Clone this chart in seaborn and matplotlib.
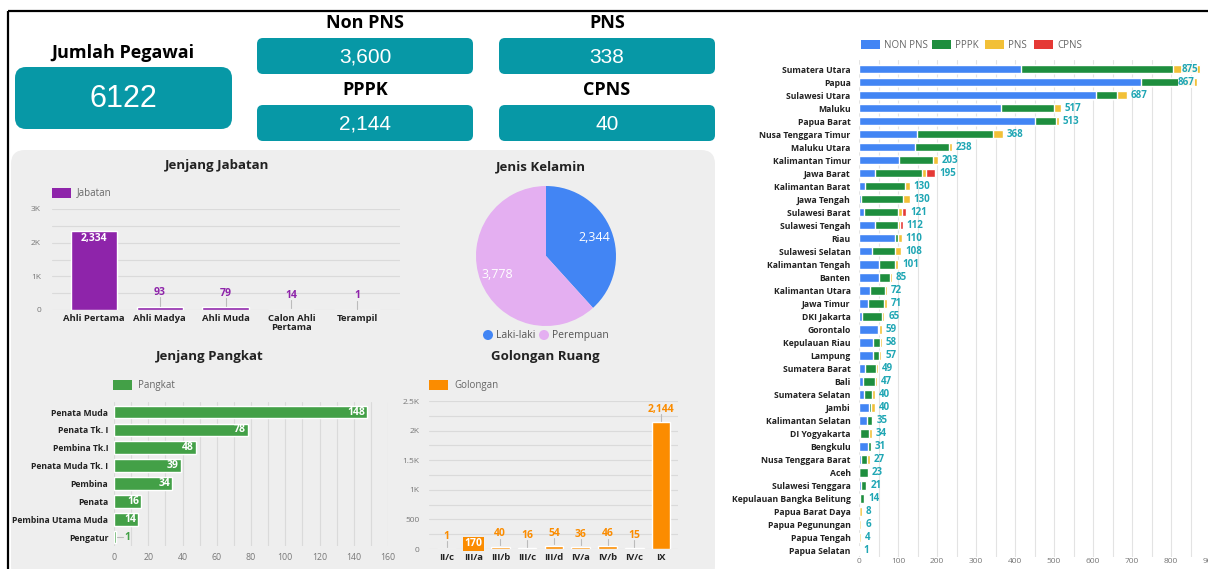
import numpy as np
import pandas as pd
import seaborn as sns
import matplotlib.pyplot as plt
from matplotlib.patches import FancyBboxPatch, Rectangle, Circle
from matplotlib.ticker import MultipleLocator

# ---- data ----
kpi_total = 6122
kpi_labels = ['Non PNS', 'PNS', 'PPPK', 'CPNS']
kpi_values = ['3,600', '338', '2,144', '40']

jabatan_cat = ['Ahli Pertama', 'Ahli Madya', 'Ahli Muda', 'Calon Ahli\nPertama', 'Terampil']
jabatan_val = [2334, 93, 79, 14, 1]

gender_cat = ['Laki-laki', 'Perempuan']
gender_val = [2344, 3778]

pangkat_cat = ['Penata Muda', 'Penata Tk. I', 'Pembina Tk.I', 'Penata Muda Tk. I',
               'Pembina', 'Penata', 'Pembina Utama Muda', 'Pengatur']
pangkat_val = [148, 78, 48, 39, 34, 16, 14, 1]

golongan_cat = ['II/c', 'III/a', 'III/b', 'III/c', 'III/d', 'IV/a', 'IV/b', 'IV/c', 'IX']
golongan_val = [1, 170, 40, 16, 54, 36, 46, 15, 2144]

provinsi = ['Sumatera Utara', 'Papua', 'Sulawesi Utara', 'Maluku', 'Papua Barat',
            'Nusa Tenggara Timur', 'Maluku Utara', 'Kalimantan Timur', 'Jawa Barat',
            'Kalimantan Barat', 'Jawa Tengah', 'Sulawesi Barat', 'Sulawesi Tengah', 'Riau',
            'Sulawesi Selatan', 'Kalimantan Tengah', 'Banten', 'Kalimantan Utara',
            'Jawa Timur', 'DKI Jakarta', 'Gorontalo', 'Kepulauan Riau', 'Lampung',
            'Sumatera Barat', 'Bali', 'Sumatera Selatan', 'Jambi', 'Kalimantan Selatan',
            'DI Yogyakarta', 'Bengkulu', 'Nusa Tenggara Barat', 'Aceh', 'Sulawesi Tenggara',
            'Kepulauan Bangka Belitung', 'Papua Barat Daya', 'Papua Pegunungan',
            'Papua Tengah', 'Papua Selatan']
non_pns = [415, 722, 607, 364, 452, 149, 144, 103, 41, 15, 6, 13, 41, 92, 34, 50, 51, 28,
           23, 8, 48, 36, 36, 15, 10, 13, 26, 21, 2, 22, 4, 0, 6, 3, 0, 0, 0, 0]
pppk = [390, 100, 54, 136, 52, 194, 88, 87, 121, 104, 106, 86, 60, 9, 59, 42, 28, 39,
        41, 51, 4, 19, 14, 29, 32, 20, 5, 12, 24, 8, 17, 22, 13, 10, 0, 0, 0, 0]
pns = [70, 45, 26, 17, 9, 25, 6, 13, 9, 11, 18, 12, 5, 9, 15, 9, 6, 5,
       7, 6, 7, 3, 7, 5, 5, 7, 9, 2, 8, 1, 6, 1, 2, 1, 8, 6, 4, 1]
cpns = [0, 0, 0, 0, 0, 0, 0, 0, 24, 0, 0, 10, 6, 0, 0, 0, 0, 0,
        0, 0, 0, 0, 0, 0, 0, 0, 0, 0, 0, 0, 0, 0, 0, 0, 0, 0, 0, 0]

# ---- style ----
sns.set_style('white')
plt.rcParams['font.family'] = ['Open Sans', 'DejaVu Sans']

TEAL = '#0798A6'
PANEL = '#EEEEEE'
GRID = '#DADADA'
DARK = '#222222'
TICK = '#777777'
PURPLE = '#8E24AA'
GREEN = '#43A047'
ORANGE = '#FB8C00'
STACK_COLORS = {'NON PNS': '#4285F4', 'PPPK': '#1E8E3E', 'PNS': '#F2C037', 'CPNS': '#E53935'}
VALUE_TEAL = '#1FA6B4'

W, H = 1208, 569
fig = plt.figure(figsize=(W / 100, H / 100), dpi=100)
fig.patch.set_facecolor('white')

bg = fig.add_axes([0, 0, 1, 1])
bg.set_xlim(0, W)
bg.set_ylim(H, 0)
bg.axis('off')


def px_axes(l, t, r, b):
    ax = fig.add_axes([l / W, 1 - b / H, (r - l) / W, (b - t) / H])
    ax.patch.set_alpha(0)
    return ax


def card(x, y, w, h, rad=8, color=TEAL):
    bg.add_patch(FancyBboxPatch((x, y), w, h, boxstyle=f'round,pad=0,rounding_size={rad}',
                                fc=color, ec='none'))


def style_axes(ax):
    for s in ax.spines.values():
        s.set_visible(False)
    ax.tick_params(length=0)
    ax.set_xlabel('')
    ax.set_ylabel('')


# frame lines
bg.plot([8, W], [11, 11], color='black', lw=1.6, solid_capstyle='butt')
bg.plot([8, 8], [11, H], color='black', lw=1.6, solid_capstyle='butt')

# ---- KPI cards ----
card(15, 67, 217, 62, rad=11)
bg.text(123, 53, 'Jumlah Pegawai', ha='center', va='center', fontsize=13, fontweight='bold', color='black')
bg.text(123, 99, str(kpi_total), ha='center', va='center', fontsize=22,
        color='white', family='Liberation Sans')

kpi_pos = [(257, 38), (499, 38), (257, 105), (499, 105)]
for (x, y), lab, val in zip(kpi_pos, kpi_labels, kpi_values):
    card(x, y, 216, 36, rad=6)
    bg.text(x + 108, y - 15, lab, ha='center', va='center', fontsize=13, fontweight='bold', color='black')
    bg.text(x + 108, y + 19, val, ha='center', va='center', fontsize=15,
            color='white', family='Liberation Sans')

# grey panel
bg.add_patch(FancyBboxPatch((11, 150), 704, 430, boxstyle='round,pad=0,rounding_size=14',
                            fc=PANEL, ec='none'))


def legend_box(x, y, color, label):
    bg.add_patch(Rectangle((x, y - 5), 19, 10, fc=color, ec='none'))
    bg.text(x + 25, y, label, ha='left', va='center', fontsize=7, color='#666666')


# ---- Jenjang Jabatan ----
bg.text(217, 165, 'Jenjang Jabatan', ha='center', va='center', fontsize=9.5, fontweight='bold', color=DARK)
legend_box(52, 193, PURPLE, 'Jabatan')
ax1 = px_axes(52, 209, 400, 310)
sns.barplot(x=jabatan_cat, y=jabatan_val, color=PURPLE, saturation=1, width=0.7, ax=ax1)
ax1.set_xlim(-0.639, 4.654)
ax1.set_ylim(0, 3000)
ax1.set_yticks([0, 1000, 2000, 3000])
ax1.set_yticklabels(['0', '1K', '2K', '3K'], fontsize=6, color=TICK)
ax1.yaxis.set_minor_locator(MultipleLocator(500))
ax1.grid(axis='y', which='both', color=GRID, lw=0.8)
ax1.set_axisbelow(True)
style_axes(ax1)
ax1.tick_params(axis='y', pad=8)
ax1.tick_params(axis='x', pad=3)
for t in ax1.get_xticklabels():
    t.set_fontsize(6.8)
    t.set_fontweight('bold')
    t.set_color(DARK)
    t.set_linespacing(1.0)
for i, v in enumerate(jabatan_val):
    if v > 1000:
        ax1.text(i, v - 60, f'{v:,}', ha='center', va='top', color='white', fontsize=7.5, fontweight='bold')
    else:
        ax1.plot([i, i], [v + 40, v + 280], color='#BBBBBB', lw=0.8)
        ax1.text(i, v + 420, f'{v:,}', ha='center', va='center', color=PURPLE, fontsize=7.5, fontweight='bold')

# ---- Jenis Kelamin ----
bg.text(541, 167, 'Jenis Kelamin', ha='center', va='center', fontsize=9.5, fontweight='bold', color=DARK)
ax2 = px_axes(476, 186, 616, 326)
gender_total = sum(gender_val)
ax2.pie(gender_val, colors=['#4285F4', '#E4AFF1'], startangle=90, counterclock=False,
        autopct=lambda p: f'{p * gender_total / 100:,.0f}', pctdistance=0.74,
        wedgeprops=dict(linewidth=0),
        textprops=dict(color='white', fontsize=9))
ax2.set_xlim(-1, 1)
ax2.set_ylim(-1, 1)
ax2.set_aspect('equal')
for x, col, lab in [(488, '#4285F4', gender_cat[0]), (544, '#E4AFF1', gender_cat[1])]:
    bg.add_patch(Circle((x, 335), 5, fc=col, ec='none'))
    bg.text(x + 8, 335, lab, ha='left', va='center', fontsize=7.5, color='#555555')

# ---- Jenjang Pangkat ----
bg.text(210, 356, 'Jenjang Pangkat', ha='center', va='center', fontsize=9.5, fontweight='bold', color=DARK)
legend_box(113, 385, GREEN, 'Pangkat')
ax3 = px_axes(114, 402, 388, 546)
sns.barplot(x=pangkat_val, y=pangkat_cat, orient='h', color=GREEN, saturation=1, width=0.71, ax=ax3)
ax3.set_xlim(0, 160)
ax3.set_ylim(7.5, -0.56)
ax3.set_xticks(np.arange(0, 161, 20))
ax3.xaxis.set_minor_locator(MultipleLocator(10))
ax3.grid(axis='x', which='both', color=GRID, lw=0.8)
ax3.set_axisbelow(True)
style_axes(ax3)
ax3.tick_params(axis='x', labelsize=6.3, labelcolor=TICK, pad=5)
ax3.tick_params(axis='y', pad=4)
for t in ax3.get_yticklabels():
    t.set_fontsize(6.2)
    t.set_fontweight('bold')
    t.set_color(DARK)
for i, v in enumerate(pangkat_val):
    if v > 5:
        ax3.text(v - 1.2, i, str(v), ha='right', va='center', color='white', fontsize=7.5, fontweight='bold')
    else:
        ax3.plot([v + 1.0, v + 4.5], [i, i], color='#BBBBBB', lw=0.8)
        ax3.text(v + 5.0, i, str(v), ha='left', va='center', color=GREEN, fontsize=7.5, fontweight='bold')

# ---- Golongan Ruang ----
bg.text(545, 356, 'Golongan Ruang', ha='center', va='center', fontsize=9.5, fontweight='bold', color=DARK)
legend_box(429, 385, ORANGE, 'Golongan')
ax4 = px_axes(429, 401, 678, 549)
sns.barplot(x=golongan_cat, y=golongan_val, color=ORANGE, saturation=1, width=0.7, ax=ax4)
ax4.set_xlim(-0.66, 8.63)
ax4.set_ylim(0, 2500)
ax4.set_yticks([0, 500, 1000, 1500, 2000, 2500])
ax4.set_yticklabels(['0', '500', '1K', '1.5K', '2K', '2.5K'], fontsize=6, color=TICK)
ax4.yaxis.set_minor_locator(MultipleLocator(250))
ax4.grid(axis='y', which='both', color=GRID, lw=0.8)
ax4.set_axisbelow(True)
style_axes(ax4)
ax4.tick_params(axis='y', pad=7)
ax4.tick_params(axis='x', pad=3)
for t in ax4.get_xticklabels():
    t.set_fontsize(6.8)
    t.set_fontweight('bold')
    t.set_color(DARK)
gmax = max(golongan_val)
for i, v in enumerate(golongan_val):
    if 100 < v < gmax:
        ax4.text(i, v / 2, f'{v:,}', ha='center', va='center', color='white', fontsize=7.5, fontweight='bold',
                 bbox=dict(boxstyle='square,pad=0.15', fc=ORANGE, ec='none'))
    else:
        ax4.plot([i, i], [v + 25, v + 130], color='#BBBBBB', lw=0.8)
        ax4.text(i, v + 215, f'{v:,}', ha='center', va='center', color=ORANGE, fontsize=7.5, fontweight='bold')

# ---- Provinsi stacked bars ----
df = pd.DataFrame({'provinsi': provinsi, 'NON PNS': non_pns, 'PPPK': pppk, 'PNS': pns, 'CPNS': cpns})
series = ['NON PNS', 'PPPK', 'PNS', 'CPNS']
cum = df[series].cumsum(axis=1)
ax5 = px_axes(859, 60, 1210, 557)
for s in reversed(series):
    sns.barplot(x=cum[s].values, y=df['provinsi'], order=provinsi, orient='h',
                color=STACK_COLORS[s], saturation=1, width=0.64, ax=ax5)
ax5.set_xlim(0, 900)
ax5.set_ylim(37.5, -0.71)
ax5.set_xticks(np.arange(0, 901, 100))
ax5.xaxis.set_minor_locator(MultipleLocator(50))
ax5.grid(axis='x', which='both', color='#E3E3E3', lw=0.8)
ax5.set_axisbelow(True)
style_axes(ax5)
ax5.tick_params(axis='x', labelsize=6, labelcolor=TICK, pad=1)
ax5.tick_params(axis='y', pad=6)
for t in ax5.get_yticklabels():
    t.set_fontsize(6.2)
    t.set_fontweight('bold')
    t.set_color(DARK)
totals = cum['CPNS'].values
for i, v in enumerate(totals):
    if v > 800:
        ax5.text(v - 6, i, str(v), ha='right', va='center', color=VALUE_TEAL, fontsize=7, fontweight='bold',
                 bbox=dict(fc='white', ec='none', pad=0.3, alpha=0.9))
    else:
        ax5.text(v + 10, i, str(v), ha='left', va='center', color=VALUE_TEAL, fontsize=7, fontweight='bold')

# legend on top of the provinsi chart
leg_x = [861, 932, 985, 1034]
for x, s in zip(leg_x, series):
    bg.add_patch(Rectangle((x, 40), 19, 9, fc=STACK_COLORS[s], ec='none'))
    bg.text(x + 23, 45, s, ha='left', va='center', fontsize=7, color='#666666')

fig.savefig('out.png', dpi=100)
